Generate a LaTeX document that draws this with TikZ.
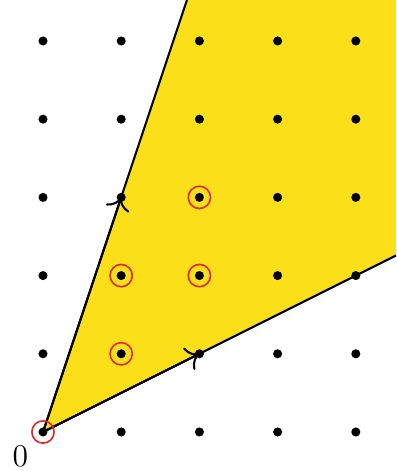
\documentclass[tikz,border=0pt]{standalone}
\usetikzlibrary{arrows.meta}
\definecolor{coneyellow}{HTML}{FBE019}
\definecolor{hilbred}{HTML}{E02A2A}
\begin{document}
\begin{tikzpicture}[x=1cm,y=1cm,
  latticept/.style={circle,fill=black,inner sep=0pt,minimum size=3.3pt},
  ringmark/.style={circle,draw=hilbred,line width=0.6pt,inner sep=0pt,minimum size=2.85mm},
  ray/.style={line width=0.75pt,black},
  vec/.style={line width=0.75pt,black,-{To[length=4.5pt,width=9pt]}}]
\useasboundingbox (-0.55,-0.499) rectangle (4.514,5.524);
\coordinate (O) at (0,0);
\coordinate (topL) at (1.841,5.524);
\coordinate (topR) at (4.514,5.524);
\coordinate (rightE) at (4.514,2.257);
\fill[coneyellow] (O) -- (topL) -- (topR) -- (rightE) -- cycle;
\coordinate (g1) at (1,3);
\coordinate (g2) at (2,1);
\draw[ray] (O) -- (topL);
\draw[ray] (O) -- (rightE);
\draw[vec] (O) -- (g1);
\draw[vec] (O) -- (g2);
\foreach \i in {0,...,4}{
  \foreach \j in {0,...,5}{
    \node[latticept] (p\i\j) at (\i,\j) {};
  }
}
\foreach \p in {00,11,12,22,23}{
  \node[ringmark] (r\p) at (p\p) {};
}
\node[font=\fontsize{11.5}{13}\selectfont] (zero) at (-0.29,-0.31) {0};
\end{tikzpicture}
\end{document}
